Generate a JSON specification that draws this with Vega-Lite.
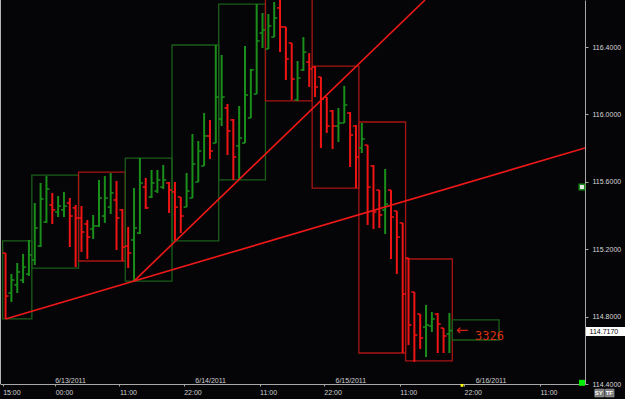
{
  "$schema": "https://vega.github.io/schema/vega-lite/v6.json",
  "width": 585,
  "height": 384,
  "autosize": {"type": "none"},
  "padding": {"left": 0, "top": 0, "right": 40, "bottom": 15},
  "background": "#050507",
  "config": {"view": {"stroke": null}},
  "datasets": {
    "bars": [
      {"h": -8.5, "o": 115.177, "hi": 115.177, "lo": 114.786, "c": 114.922},
      {"h": -7.5, "o": 114.940, "hi": 115.053, "lo": 114.887, "c": 115.017},
      {"h": -6.5, "o": 114.988, "hi": 115.118, "lo": 114.940, "c": 115.065},
      {"h": -5.5, "o": 115.017, "hi": 115.172, "lo": 114.999, "c": 115.094},
      {"h": -4.5, "o": 115.053, "hi": 115.255, "lo": 115.041, "c": 115.166},
      {"h": -3.5, "o": 115.136, "hi": 115.474, "lo": 115.106, "c": 115.326},
      {"h": -2.5, "o": 115.219, "hi": 115.593, "lo": 115.213, "c": 115.498},
      {"h": -1.5, "o": 115.361, "hi": 115.634, "lo": 115.356, "c": 115.557},
      {"h": -0.5, "o": 115.462, "hi": 115.534, "lo": 115.350, "c": 115.433},
      {"h": 0.5, "o": 115.421, "hi": 115.516, "lo": 115.391, "c": 115.456},
      {"h": 1.5, "o": 115.433, "hi": 115.540, "lo": 115.391, "c": 115.456},
      {"h": 2.5, "o": 115.474, "hi": 115.504, "lo": 115.213, "c": 115.397},
      {"h": 3.5, "o": 115.445, "hi": 115.462, "lo": 115.094, "c": 115.385},
      {"h": 4.5, "o": 115.385, "hi": 115.456, "lo": 115.183, "c": 115.302},
      {"h": 5.5, "o": 115.350, "hi": 115.373, "lo": 115.142, "c": 115.272},
      {"h": 6.5, "o": 115.320, "hi": 115.403, "lo": 115.261, "c": 115.338},
      {"h": 7.5, "o": 115.338, "hi": 115.611, "lo": 115.332, "c": 115.504},
      {"h": 8.5, "o": 115.397, "hi": 115.634, "lo": 115.356, "c": 115.504},
      {"h": 9.5, "o": 115.450, "hi": 115.652, "lo": 115.409, "c": 115.534},
      {"h": 10.5, "o": 115.492, "hi": 115.605, "lo": 115.195, "c": 115.385},
      {"h": 11.5, "o": 115.433, "hi": 115.439, "lo": 115.130, "c": 115.213},
      {"h": 12.5, "o": 115.219, "hi": 115.332, "lo": 115.088, "c": 115.177},
      {"h": 13.5, "o": 115.255, "hi": 115.563, "lo": 115.011, "c": 115.326},
      {"h": 14.5, "o": 115.296, "hi": 115.741, "lo": 115.290, "c": 115.593},
      {"h": 15.5, "o": 115.569, "hi": 115.623, "lo": 115.439, "c": 115.445},
      {"h": 16.5, "o": 115.510, "hi": 115.670, "lo": 115.504, "c": 115.593},
      {"h": 17.5, "o": 115.545, "hi": 115.670, "lo": 115.534, "c": 115.611},
      {"h": 18.5, "o": 115.569, "hi": 115.700, "lo": 115.557, "c": 115.611},
      {"h": 19.5, "o": 115.593, "hi": 115.599, "lo": 115.415, "c": 115.551},
      {"h": 20.5, "o": 115.540, "hi": 115.599, "lo": 115.255, "c": 115.450},
      {"h": 21.5, "o": 115.510, "hi": 115.510, "lo": 115.296, "c": 115.397},
      {"h": 22.5, "o": 115.450, "hi": 115.652, "lo": 115.450, "c": 115.545},
      {"h": 23.5, "o": 115.504, "hi": 115.884, "lo": 115.504, "c": 115.706},
      {"h": 24.5, "o": 115.599, "hi": 115.842, "lo": 115.599, "c": 115.783},
      {"h": 25.5, "o": 115.694, "hi": 116.008, "lo": 115.694, "c": 115.872},
      {"h": 26.5, "o": 115.872, "hi": 115.967, "lo": 115.735, "c": 115.783},
      {"h": 27.5, "o": 115.830, "hi": 116.412, "lo": 115.830, "c": 116.103},
      {"h": 28.5, "o": 115.973, "hi": 116.353, "lo": 115.931, "c": 116.103},
      {"h": 29.5, "o": 116.038, "hi": 116.062, "lo": 115.759, "c": 115.902},
      {"h": 30.5, "o": 115.967, "hi": 115.973, "lo": 115.611, "c": 115.747},
      {"h": 31.5, "o": 115.813, "hi": 116.050, "lo": 115.611, "c": 115.860},
      {"h": 32.5, "o": 115.830, "hi": 116.406, "lo": 115.830, "c": 116.115},
      {"h": 33.5, "o": 115.979, "hi": 116.270, "lo": 115.979, "c": 116.264},
      {"h": 34.5, "o": 116.121, "hi": 116.655, "lo": 116.121, "c": 116.436},
      {"h": 35.5, "o": 116.483, "hi": 116.602, "lo": 116.394, "c": 116.501},
      {"h": 36.5, "o": 116.388, "hi": 116.596, "lo": 116.388, "c": 116.525},
      {"h": 37.5, "o": 116.459, "hi": 116.667, "lo": 116.459, "c": 116.572},
      {"h": 38.5, "o": 116.632, "hi": 116.727, "lo": 116.370, "c": 116.519},
      {"h": 39.5, "o": 116.519, "hi": 116.519, "lo": 116.204, "c": 116.329},
      {"h": 40.5, "o": 116.424, "hi": 116.424, "lo": 116.086, "c": 116.210},
      {"h": 41.5, "o": 116.086, "hi": 116.317, "lo": 116.080, "c": 116.216},
      {"h": 42.5, "o": 116.264, "hi": 116.459, "lo": 116.258, "c": 116.370},
      {"h": 43.5, "o": 116.311, "hi": 116.364, "lo": 116.163, "c": 116.270},
      {"h": 44.5, "o": 116.281, "hi": 116.287, "lo": 116.103, "c": 116.163},
      {"h": 45.5, "o": 116.222, "hi": 116.222, "lo": 115.801, "c": 116.091},
      {"h": 46.5, "o": 116.103, "hi": 116.103, "lo": 115.890, "c": 115.931},
      {"h": 47.5, "o": 116.020, "hi": 116.026, "lo": 115.795, "c": 115.931},
      {"h": 48.5, "o": 115.931, "hi": 116.038, "lo": 115.836, "c": 115.949},
      {"h": 49.5, "o": 115.949, "hi": 116.169, "lo": 115.949, "c": 116.056},
      {"h": 50.5, "o": 116.008, "hi": 116.014, "lo": 115.688, "c": 115.878},
      {"h": 51.5, "o": 115.931, "hi": 115.937, "lo": 115.563, "c": 115.747},
      {"h": 52.5, "o": 115.801, "hi": 115.949, "lo": 115.771, "c": 115.854},
      {"h": 53.5, "o": 115.818, "hi": 115.818, "lo": 115.344, "c": 115.569},
      {"h": 54.5, "o": 115.694, "hi": 115.700, "lo": 115.320, "c": 115.421},
      {"h": 55.5, "o": 115.551, "hi": 115.551, "lo": 115.326, "c": 115.403},
      {"h": 56.5, "o": 115.433, "hi": 115.676, "lo": 115.290, "c": 115.468},
      {"h": 57.5, "o": 115.551, "hi": 115.551, "lo": 115.142, "c": 115.391},
      {"h": 58.5, "o": 115.427, "hi": 115.427, "lo": 115.053, "c": 115.272},
      {"h": 59.5, "o": 115.356, "hi": 115.356, "lo": 114.584, "c": 114.934},
      {"h": 60.5, "o": 115.148, "hi": 115.148, "lo": 114.631, "c": 114.750},
      {"h": 61.5, "o": 114.946, "hi": 114.946, "lo": 114.531, "c": 114.691},
      {"h": 62.5, "o": 114.815, "hi": 114.815, "lo": 114.608, "c": 114.673},
      {"h": 63.5, "o": 114.738, "hi": 114.869, "lo": 114.560, "c": 114.750},
      {"h": 64.5, "o": 114.744, "hi": 114.827, "lo": 114.709, "c": 114.786},
      {"h": 65.5, "o": 114.815, "hi": 114.821, "lo": 114.584, "c": 114.756},
      {"h": 66.5, "o": 114.732, "hi": 114.732, "lo": 114.584, "c": 114.685},
      {"h": 67.5, "o": 114.697, "hi": 114.821, "lo": 114.584, "c": 114.717}
    ],
    "boxes": [
      {"hs": -9, "he": -4, "top": 115.249, "bot": 114.786, "dir": "up"},
      {"hs": -4, "he": 4, "top": 115.640, "bot": 115.088, "dir": "up"},
      {"hs": 4, "he": 12, "top": 115.658, "bot": 115.130, "dir": "down"},
      {"hs": 12, "he": 20, "top": 115.741, "bot": 115.011, "dir": "up"},
      {"hs": 20, "he": 28, "top": 116.412, "bot": 115.249, "dir": "up"},
      {"hs": 28, "he": 36, "top": 116.655, "bot": 115.611, "dir": "up"},
      {"hs": 36, "he": 44, "top": 116.740, "bot": 116.080, "dir": "down"},
      {"hs": 44, "he": 52, "top": 116.287, "bot": 115.563, "dir": "down"},
      {"hs": 52, "he": 60, "top": 115.955, "bot": 114.584, "dir": "down"},
      {"hs": 60, "he": 68, "top": 115.142, "bot": 114.537, "dir": "down"},
      {"hs": 68, "he": 76, "top": 114.780, "bot": 114.661, "dir": "up"}
    ],
    "lines": [
      {"id": "a", "h": -8.5, "p": 114.786},
      {"id": "a", "h": 90.72, "p": 115.801},
      {"id": "b", "h": 13.5, "p": 115.011},
      {"id": "b", "h": 63.32, "p": 116.679}
    ],
    "dates": [
      {"h": 0, "t": "6/13/2011"},
      {"h": 24, "t": "6/14/2011"},
      {"h": 48, "t": "6/15/2011"},
      {"h": 72, "t": "6/16/2011"}
    ],
    "buttons": [
      {"hs": 92.4, "he": 94.0, "top": 114.370, "bot": 114.323, "t": "SY"},
      {"hs": 94.2, "he": 95.7, "top": 114.370, "bot": 114.323, "t": "TF"}
    ]
  },
  "encoding": {
    "x": {"type": "quantitative", "scale": {"domain": [-9.452, 90.72], "nice": false, "zero": false}, "title": null, "axis": {
      "values": [-9, 0, 11, 22, 35, 46, 59, 70, 83],
      "labelExpr": "((((datum.value % 24) + 24) % 24) < 10 ? '0' : '') + (((datum.value % 24) + 24) % 24) + ':00'",
      "labelAlign": "left", "labelBaseline": "top", "labelFontSize": 7, "labelFont": "Liberation Sans",
      "labelColor": "#d0d0d0", "labelPadding": 2, "tickSize": 2, "tickColor": "#a8a8a8",
      "domainColor": "#a8a8a8", "grid": false, "title": null, "labelFlush": false, "labelOverlap": false
    }},
    "y": {"type": "quantitative", "scale": {"domain": [114.4, 116.679], "nice": false, "zero": false}, "title": null, "axis": {
      "orient": "right", "values": [114.4, 114.8, 115.2, 115.6, 116.0, 116.4], "format": ".4f",
      "labelFontSize": 7, "labelFont": "Liberation Sans", "labelColor": "#d8d8d8", "labelPadding": 4,
      "tickSize": 3, "tickColor": "#a8a8a8", "domainColor": "#a8a8a8", "grid": false, "title": null,
      "labelFlush": false, "labelOverlap": false
    }}
  },
  "layer": [
    {
      "data": {"values": [{"v": -9.452}]},
      "mark": {"type": "rule", "stroke": "#b4b4b4", "strokeWidth": 2},
      "encoding": {
        "x": {"field": "v"},
        "y": null
      }
    },
    {
      "data": {"name": "boxes"},
      "mark": {"type": "rect", "filled": false, "strokeWidth": 1.3, "clip": true},
      "encoding": {
        "x": {"field": "hs"},
        "x2": {"field": "he"},
        "y": {"field": "top"},
        "y2": {"field": "bot"},
        "stroke": {"field": "dir", "type": "nominal", "scale": {"domain": ["up", "down"], "range": ["#1a5e1a", "#a81414"]}, "legend": null}
      }
    },
    {
      "data": {"name": "bars"},
      "mark": {"type": "rule", "strokeWidth": 2, "clip": true},
      "encoding": {
        "x": {"field": "h"},
        "y": {"field": "hi"},
        "y2": {"field": "lo"},
        "color": {"condition": {"test": "datum.c >= datum.o", "value": "#1a8e1a"}, "value": "#f01414"}
      }
    },
    {
      "data": {"name": "bars"},
      "mark": {"type": "rule", "strokeWidth": 1.5, "xOffset": -3, "clip": true},
      "encoding": {
        "x": {"field": "h"},
        "x2": {"field": "h"},
        "y": {"field": "o"},
        "color": {"condition": {"test": "datum.c >= datum.o", "value": "#1a8e1a"}, "value": "#f01414"}
      }
    },
    {
      "data": {"name": "bars"},
      "mark": {"type": "rule", "strokeWidth": 1.5, "x2Offset": 3, "clip": true},
      "encoding": {
        "x": {"field": "h"},
        "x2": {"field": "h"},
        "y": {"field": "c"},
        "color": {"condition": {"test": "datum.c >= datum.o", "value": "#1a8e1a"}, "value": "#f01414"}
      }
    },
    {
      "data": {"name": "lines"},
      "mark": {"type": "line", "stroke": "#f01818", "strokeWidth": 1.6, "clip": true},
      "encoding": {
        "x": {"field": "h"},
        "y": {"field": "p"},
        "detail": {"field": "id"}
      }
    },
    {
      "data": {"name": "dates"},
      "mark": {"type": "text", "align": "left", "baseline": "alphabetic", "dy": -1, "fontSize": 7, "font": "Liberation Sans", "fill": "#d0d0d0"},
      "encoding": {
        "x": {"field": "h"},
        "y": {"datum": 114.4},
        "text": {"field": "t"}
      }
    },
    {
      "data": {"values": [{"h": 69.66, "p": 114.72, "t": "←"}]},
      "mark": {"type": "text", "align": "center", "baseline": "middle", "fontSize": 15, "font": "DejaVu Sans", "fill": "#d02010"},
      "encoding": {
        "x": {"field": "h"},
        "y": {"field": "p"},
        "text": {"field": "t"}
      }
    },
    {
      "data": {"values": [{"h": 71.88, "p": 114.683, "t": "3326"}]},
      "mark": {"type": "text", "align": "left", "baseline": "middle", "fontSize": 12, "font": "DejaVu Sans Mono", "fill": "#d83010"},
      "encoding": {
        "x": {"field": "h"},
        "y": {"field": "p"},
        "text": {"field": "t"}
      }
    },
    {
      "data": {"values": [{"hs": 90.89, "he": 97.6, "top": 114.738, "bot": 114.685}]},
      "mark": {"type": "rect", "fill": "#ffffff", "clip": false},
      "encoding": {
        "x": {"field": "hs"},
        "x2": {"field": "he"},
        "y": {"field": "top"},
        "y2": {"field": "bot"}
      }
    },
    {
      "data": {"values": [{"h": 91.5, "p": 114.711, "t": "114.7170"}]},
      "mark": {"type": "text", "align": "left", "baseline": "middle", "fontSize": 7, "font": "Liberation Sans", "fill": "#000000", "clip": false},
      "encoding": {
        "x": {"field": "h"},
        "y": {"field": "p"},
        "text": {"field": "t"}
      }
    },
    {
      "data": {"name": "buttons"},
      "mark": {"type": "rect", "fill": "#7a7a7a", "stroke": "#b0b0b0", "strokeWidth": 0.5, "clip": false},
      "encoding": {
        "x": {"field": "hs"},
        "x2": {"field": "he"},
        "y": {"field": "top"},
        "y2": {"field": "bot"}
      }
    },
    {
      "data": {"name": "buttons"},
      "mark": {"type": "text", "align": "center", "baseline": "middle", "fontSize": 6, "fontWeight": "bold", "font": "Liberation Sans", "fill": "#ffffff", "clip": false, "dx": 4, "dy": 4},
      "encoding": {
        "x": {"field": "hs"},
        "y": {"field": "top"},
        "text": {"field": "t"}
      }
    },
    {
      "data": {"values": [{"h": 90.2, "p": 114.407}]},
      "mark": {"type": "square", "size": 36, "fill": "#00ee00", "opacity": 1, "clip": false},
      "encoding": {
        "x": {"field": "h"},
        "y": {"field": "p"}
      }
    },
    {
      "data": {"values": [{"h": 69.66, "p": 114.392}]},
      "mark": {"type": "square", "size": 8, "fill": "#ffff00", "opacity": 1, "clip": false},
      "encoding": {
        "x": {"field": "h"},
        "y": {"field": "p"}
      }
    },
    {
      "data": {"values": [{"h": 90.2, "p": 115.569}]},
      "mark": {"type": "square", "size": 30, "fill": "#e8e8e8", "stroke": "#1a8a1a", "strokeWidth": 1.5, "opacity": 1, "clip": false},
      "encoding": {
        "x": {"field": "h"},
        "y": {"field": "p"}
      }
    }
  ]
}
